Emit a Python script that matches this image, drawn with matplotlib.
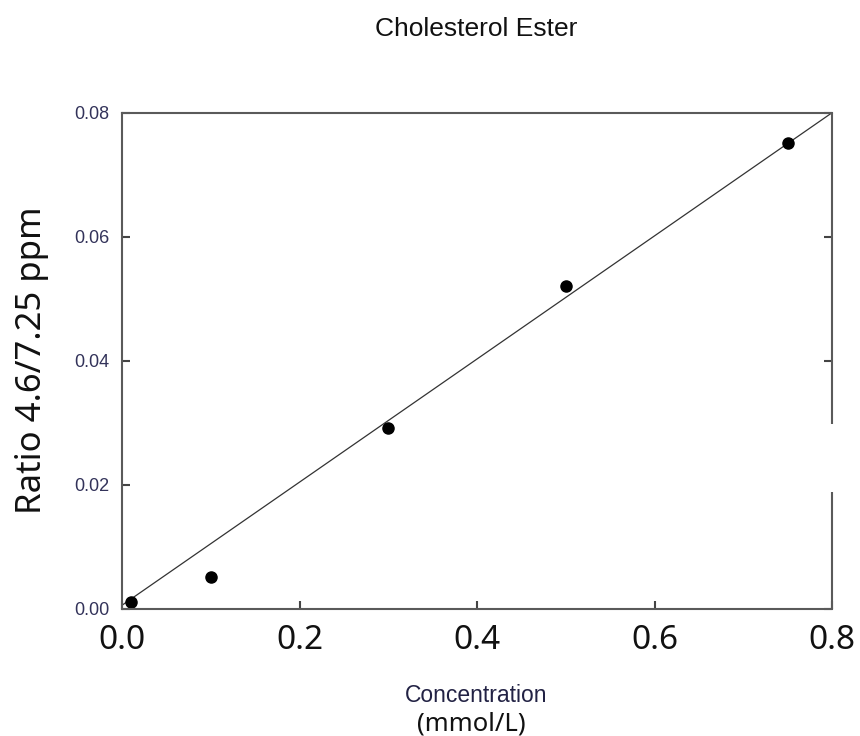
import numpy as np
import matplotlib.pyplot as plt

# datos
conc = [0.01, 0.10, 0.30, 0.50, 0.75]
ratio = [0.0011, 0.0052, 0.0292, 0.0521, 0.0752]

# recta de calibracion dibujada
slope = 0.0993
intercept = 0.0006

x_ticks = [0.0, 0.2, 0.4, 0.6, 0.8]
x_ticklabels = ["0.0", "0.2", "0.4", "0.6", "0.8"]
y_ticks = [0.00, 0.02, 0.04, 0.06, 0.08]
y_ticklabels = ["0.00", "0.02", "0.04", "0.06", "0.08"]

fig = plt.figure(figsize=(8.6, 7.36), dpi=100)
ax = fig.add_axes([0.1419, 0.1726, 0.8256, 0.6739])

xl = np.array([0.0, 0.8])
ax.plot(xl, slope * xl + intercept, color="#333333", lw=0.9)
ax.plot(conc, ratio, "o", color="black", ms=8)

ax.set_xlim(0, 0.8)
ax.set_ylim(0, 0.08)
ax.set_xticks(x_ticks)
ax.set_xticklabels(x_ticklabels, fontsize=24, family="Noto Sans", color="#111111")
ax.set_yticks(y_ticks)
ax.set_yticklabels(y_ticklabels, fontsize=13, family="Liberation Sans", color="#33335a")
ax.tick_params(axis="x", direction="in", length=6, width=1.5, color="#444444", pad=11)
ax.tick_params(axis="y", direction="in", length=6, width=1.5, color="#444444", right=True, pad=9)
ax.yaxis.get_major_ticks()[1].tick2line.set_visible(False)

for s in ["left", "top", "bottom"]:
    ax.spines[s].set_color("#5a5a5a")
    ax.spines[s].set_linewidth(1.5)
ax.spines["right"].set_visible(False)
# borde derecho con hueco
for y0, y1 in [(0.0, 0.236), (0.373, 1.0)]:
    ax.plot([1, 1], [y0, y1], transform=ax.transAxes, color="#5a5a5a",
            lw=1.5, clip_on=False, solid_capstyle="butt")

fig.text(0.5535, 0.960, "Cholesterol Ester", ha="center", va="center",
         fontsize=19, family="Liberation Sans", color="#111111")
fig.text(0.5535, 0.0557, "Concentration", ha="center", va="center",
         fontsize=16.5, family="Liberation Sans", color="#222244")
fig.text(0.548, 0.0163, "(mmol/L)", ha="center", va="center",
         fontsize=18.5, family="Noto Sans", color="#111111")
fig.text(0.037, 0.511, "Ratio 4.6/7.25 ppm", ha="center", va="center",
         rotation=90, fontsize=25, family="Noto Sans", color="#111111")

fig.savefig("out.png", dpi=100)
